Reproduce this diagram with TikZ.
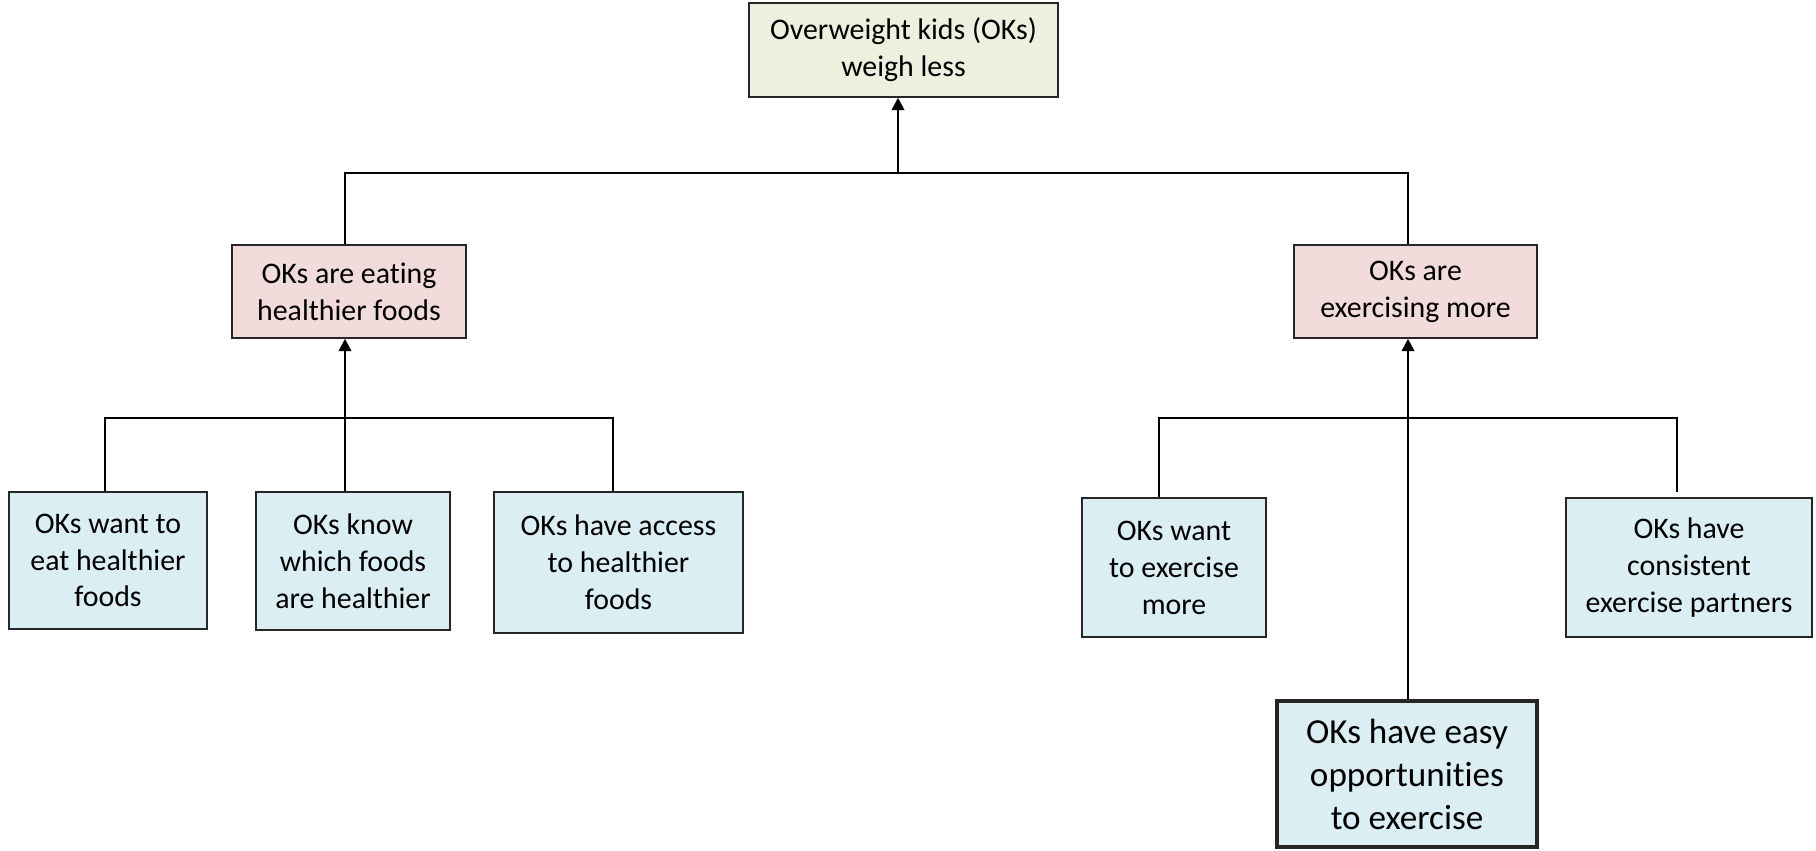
\documentclass[tikz,border=0pt]{standalone}
\usepackage{fontspec}
\setmainfont[Ligatures=NoCommon]{Carlito}
\usetikzlibrary{arrows.meta}
\definecolor{topgreen}{HTML}{EBF1DE}
\definecolor{midpink}{HTML}{F2DCDB}
\definecolor{lowblue}{HTML}{DBEEF4}
\tikzset{
  box/.style={draw=black!85, line width=0.8pt, align=center, inner sep=2pt,
    font=\fontsize{17}{21}\selectfont},
  goalbox/.style={box, fill=topgreen},
  midbox/.style={box, fill=midpink},
  lowbox/.style={box, fill=lowblue},
  keybox/.style={lowbox, line width=2.4pt, font=\fontsize{20}{24.5}\selectfont},
  link/.style={line width=0.8pt},
  uparrow/.style={line width=1.4pt, -{Triangle[length=7pt,width=7pt]}}
}
\begin{document}
\begin{tikzpicture}[x=0.02cm,y=-0.02cm]
\useasboundingbox (0,0) rectangle (1816,850);
\node[goalbox, minimum width=309*0.02cm, minimum height=94*0.02cm] (top) at (903.5,50) {Overweight kids (OKs)\\weigh less};
\node[midbox, minimum width=234*0.02cm, minimum height=93*0.02cm] (eat) at (349,291.5) {OKs are eating\\healthier foods};
\node[midbox, minimum width=243*0.02cm, minimum height=93*0.02cm] (exe) at (1415.5,291.5) {OKs are\\exercising more};
\node[lowbox, minimum width=198*0.02cm, minimum height=137*0.02cm] (b1) at (108,560.5) {OKs want to\\eat healthier\\foods};
\node[lowbox, minimum width=194*0.02cm, minimum height=138*0.02cm] (b2) at (353,561) {OKs know\\which foods\\are healthier};
\node[lowbox, minimum width=249*0.02cm, minimum height=141*0.02cm] (b3) at (618.5,562.5) {OKs have access\\to healthier\\foods};
\node[lowbox, minimum width=184*0.02cm, minimum height=139*0.02cm] (b4) at (1174,567.5) {OKs want\\to exercise\\more};
\node[lowbox, minimum width=246*0.02cm, minimum height=139*0.02cm] (b5) at (1689,567.5) {OKs have\\consistent\\exercise partners};
\node[keybox, minimum width=260*0.02cm, minimum height=146*0.02cm] (b6) at (1407,774) {OKs have easy\\opportunities\\to exercise};
% top level
\coordinate (j0) at (898,173);
\coordinate (jl) at (345,173);
\coordinate (jr) at (1408,173);
\draw[link] (jl |- eat.north) -- (jl) -- (jr) -- (jr |- exe.north);
\draw[uparrow] (j0) -- (j0 |- top.south);
% left group
\coordinate (l1) at (105,418);
\coordinate (l2) at (345,418);
\coordinate (l3) at (613,418);
\draw[link] (l1 |- b1.north) -- (l1) -- (l3) -- (l3 |- b3.north);
\draw[uparrow] (l2 |- b2.north) -- (l2 |- eat.south);
% right group
\coordinate (r1) at (1159,418);
\coordinate (r3) at (1677,418);
\coordinate (r3end) at (1677,492);
\draw[link] (r1 |- b4.north) -- (r1) -- (r3) -- (r3end);
\coordinate (r2) at (1408,418);
\draw[uparrow] (r2 |- b6.north) -- (r2 |- exe.south);
\end{tikzpicture}
\end{document}
